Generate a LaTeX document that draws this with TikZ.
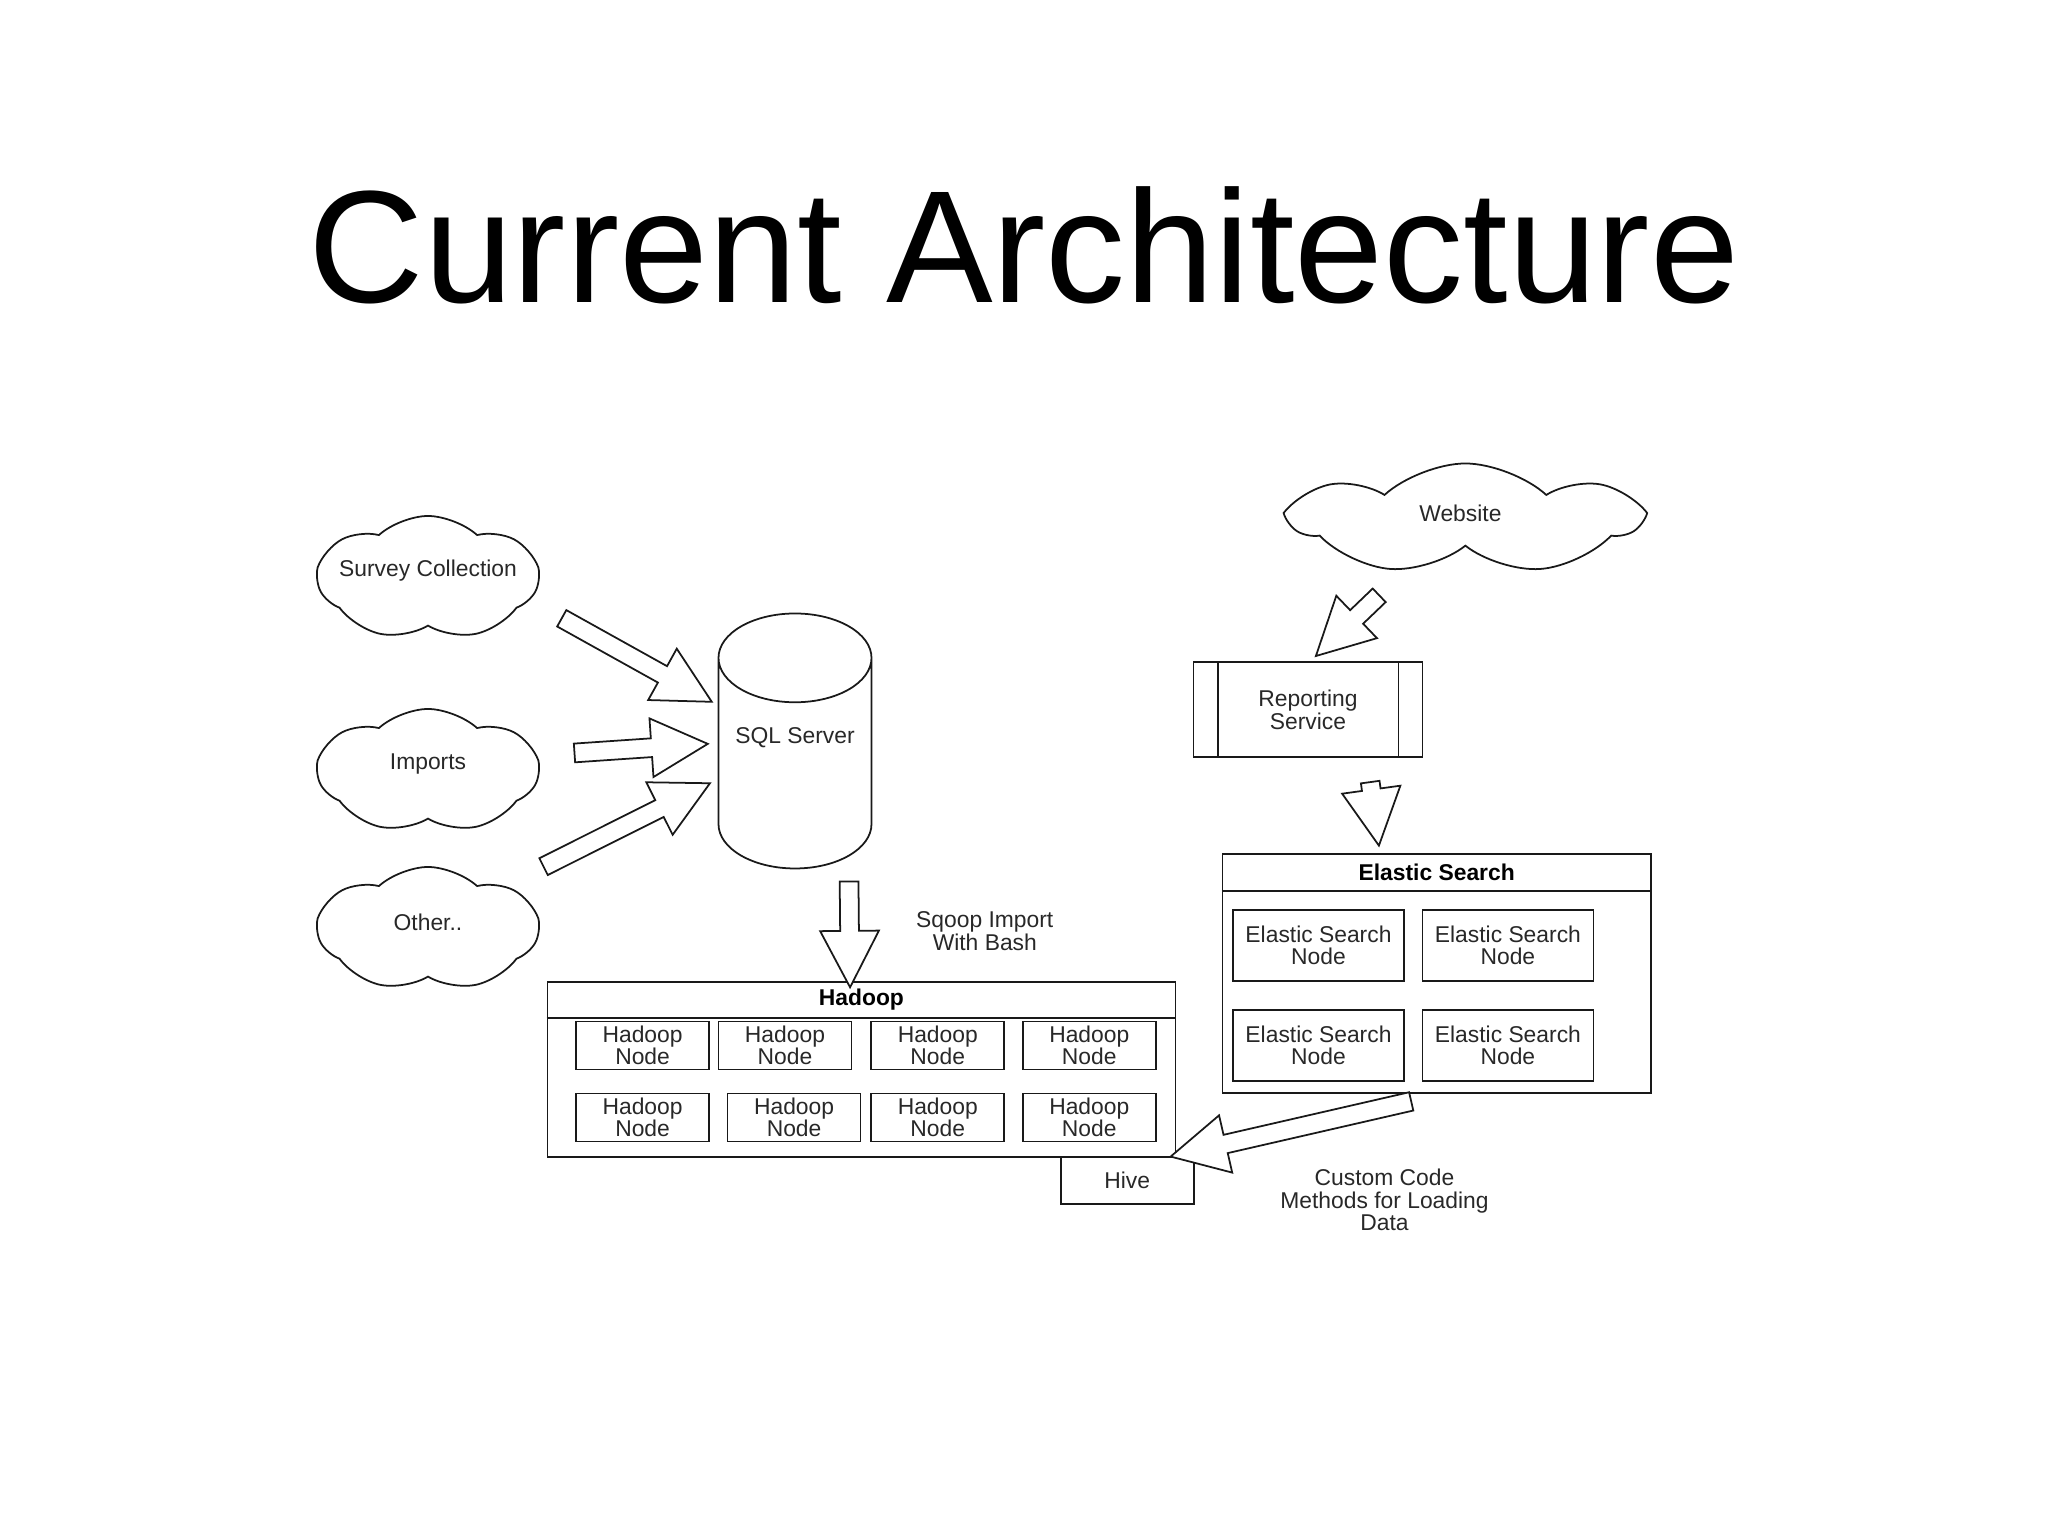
\documentclass[tikz,border=0pt]{standalone}
\usepackage{fontspec}
\setmainfont{Liberation Sans}
\usepackage{tikz}
\usetikzlibrary{shapes.geometric, shapes.symbols, shapes.arrows, arrows.meta, positioning, calc}
\definecolor{mydark}{RGB}{25,25,25}
\definecolor{mytext}{RGB}{40,40,40}
\newcommand{\diagfont}{\fontsize{6.5}{6.4}\selectfont}
\tikzset{
  srccloud/.style={cloud, draw=mydark, fill=white, cloud puffs=7,
    cloud puff arc=85, aspect=1.8, cloud ignores aspect,
    minimum width=2.2cm, minimum height=1.24cm, inner sep=0pt, line width=0.5pt},
  webcloud/.style={srccloud, minimum width=3.45cm, minimum height=1.11cm},
  dbcyl/.style={cylinder, shape border rotate=90, draw=mydark, fill=white,
    aspect=1.48, minimum width=1.53cm, minimum height=2.55cm,
    inner sep=0.3cm, line width=0.5pt},
  nodebox/.style={rectangle, draw=mydark, minimum width=1.33cm,
    minimum height=0.48cm, inner sep=0pt, align=center,
    font=\diagfont, text=mytext, line width=0.5pt},
  esbox/.style={nodebox, minimum width=1.71cm, minimum height=0.705cm},
  procbox/.style={nodebox, minimum width=2.29cm, minimum height=0.95cm},
  container/.style={rectangle, draw=mydark, inner sep=0pt, line width=0.5pt},
  hdr/.style={font=\diagfont\bfseries, inner sep=0pt, minimum height=0.35cm},
  lbl/.style={font=\diagfont, align=center, inner sep=0pt, text=mytext},
  blockarr/.style={single arrow, draw=mydark, fill=white, inner xsep=0pt,
    inner ysep=0.085cm, single arrow head extend=0.2cm,
    single arrow tip angle=55, line width=0.5pt},
  line/.style={line width=0.5pt, color=mydark}
}
% hollow arrow between two points: name, tail, tip
\newcommand{\blockarrow}[3]{%
  \path let \p1 = ($(#3)-(#2)$), \n1 = {veclen(\x1,\y1)}, \n2 = {atan2(\y1,\x1)} in
    node (#1) at ($(#2)!0.5!(#3)$) [blockarr, minimum height=\n1, rotate=\n2] {};}

\begin{document}
\begin{tikzpicture}
  \useasboundingbox (0, 0) rectangle (20.48, 15.36);

  % Title
  \node (title) at (10.24, 12.33) [anchor=base, font=\fontsize{45.5}{50}\selectfont] {Current Architecture};

  % Sources
  \node (survey) at (4.28, 9.58) [srccloud] {};
  \node (surveytxt) at ($(survey)+(0, 0.07)$) [lbl] {Survey Collection};
  \node (imports) at (4.28, 7.65) [srccloud] {};
  \node (importstxt) at ($(imports)+(0, 0.07)$) [lbl] {Imports};
  \node (other) at (4.28, 6.07) [srccloud] {};
  \node (othertxt) at ($(other)+(0, 0.07)$) [lbl] {Other..};

  % Database
  \node (sql) at (7.95, 7.95) [dbcyl, anchor=shape center] {};
  \node (sqltxt) at (7.95, 7.98) [lbl] {SQL Server};

  % Hadoop cluster
  \node (hadoop) at (8.614, 4.663) [container, minimum width=6.28cm, minimum height=1.75cm] {};
  \node (hadooptitle) [hdr, below=0pt of hadoop.north] {Hadoop};
  \draw[line] (hadoop.west |- hadooptitle.south) -- (hadoop.east |- hadooptitle.south);
  \node (h1) at (6.426, 4.904) [nodebox] {Hadoop\\Node};
  \node (h2) at (7.850, 4.904) [nodebox] {Hadoop\\Node};
  \node (h3) at (9.378, 4.904) [nodebox] {Hadoop\\Node};
  \node (h4) at (10.893, 4.904) [nodebox] {Hadoop\\Node};
  \node (h5) at (6.426, 4.186) [nodebox] {Hadoop\\Node};
  \node (h6) at (7.941, 4.186) [nodebox] {Hadoop\\Node};
  \node (h7) at (9.378, 4.186) [nodebox] {Hadoop\\Node};
  \node (h8) at (10.893, 4.186) [nodebox] {Hadoop\\Node};
  \node (hive) at (11.272, 3.553) [nodebox, minimum height=0.47cm] {Hive};

  % Web side
  \node (website) at (14.654, 10.17) [webcloud] {};
  \node (websitetxt) at ($(website)+(-0.05, 0.06)$) [lbl] {Website};
  \node (report) at (13.08, 8.261) [procbox] {Reporting\\Service};
  \draw[line] ([xshift=0.25cm]report.north west) -- ([xshift=0.25cm]report.south west);
  \draw[line] ([xshift=-0.25cm]report.north east) -- ([xshift=-0.25cm]report.south east);

  % Elastic Search cluster
  \node (elastic) at (14.367, 5.623) [container, minimum width=4.284cm, minimum height=2.39cm] {};
  \node (elastictitle) [hdr, minimum height=0.366cm, below=0pt of elastic.north] {Elastic Search};
  \draw[line] (elastic.west |- elastictitle.south) -- (elastic.east |- elastictitle.south);
  \node (es1) at (13.185, 5.904) [esbox] {Elastic Search\\Node};
  \node (es2) at (15.079, 5.904) [esbox] {Elastic Search\\Node};
  \node (es3) at (13.185, 4.904) [esbox] {Elastic Search\\Node};
  \node (es4) at (15.079, 4.904) [esbox] {Elastic Search\\Node};

  % Arrow ends
  \coordinate (in1s) at (5.538, 9.221);
  \coordinate (in1e) at (7.04, 8.385);
  \coordinate (in2s) at (5.655, 7.824);
  \coordinate (in2e) at (6.988, 7.915);
  \coordinate (in3s) at (5.355, 6.653);
  \coordinate (in3e) at (7.019, 7.487);
  \coordinate (sqoops) at (8.49, 6.635);
  \coordinate (sqoope) at ([yshift=0.03cm]hadoop.north -| 8.50, 0);
  \coordinate (webs) at (13.857, 9.469);
  \coordinate (webe) at (13.224, 8.862);
  \coordinate (reps) at (13.69, 7.628);
  \coordinate (repe) at (13.777, 6.993);
  \coordinate (loads) at (14.2, 4.366);
  \coordinate (loade) at (11.794, 3.814);

  % Block arrows
  \blockarrow{a1}{in1s}{in1e}
  \blockarrow{a2}{in2s}{in2e}
  \blockarrow{a3}{in3s}{in3e}
  \blockarrow{a4}{sqoops}{sqoope}
  \blockarrow{a5}{webs}{webe}
  \blockarrow{a6}{reps}{repe}
  \blockarrow{a7}{loads}{loade}

  % Arrow labels
  \node (sqooptxt) at (9.848, 6.047) [lbl] {Sqoop Import\\With Bash};
  \node (loadtxt) at (13.845, 3.357) [lbl] {Custom Code\\Methods for Loading\\Data};
\end{tikzpicture}
\end{document}
